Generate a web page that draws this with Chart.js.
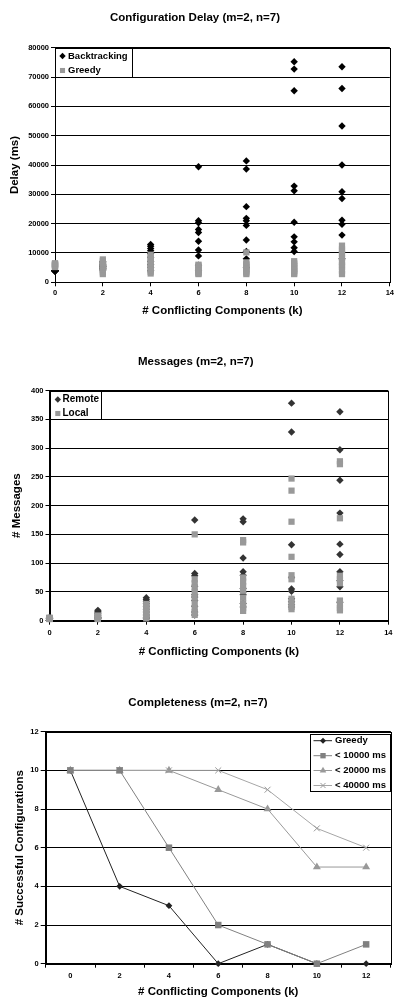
<!DOCTYPE html>
<html><head><meta charset="utf-8">
<script src="https://cdn.jsdelivr.net/npm/chart.js@4.4.1/dist/chart.umd.min.js"></script>
<style>
html,body{margin:0;padding:0;background:#fff;width:396px;height:998px;overflow:hidden}
canvas{position:absolute;left:0}
</style></head><body>
<canvas id="c1" width="396" height="325" style="top:0px;width:396px;height:325px"></canvas>
<canvas id="c2" width="396" height="335" style="top:330px;width:396px;height:335px"></canvas>
<canvas id="c3" width="396" height="330" style="top:670px;width:396px;height:330px"></canvas>
<script>
// ---------- DATA ----------
const kValues = [0, 2, 4, 6, 8, 10, 12];

// Configuration Delay (ms), 10 configurations per k
const delayBacktracking = [
  [3800, 3900, 3850, 4000, 3950, 3900, 4050, 3800, 4000, 3900],
  [4200, 4800, 5300, 5700, 6100, 6600, 7000, 5000, 4500, 5500],
  [12900, 12300, 11500, 10800, 9800, 8500, 7100, 6000, 3900, 5100],
  [39400, 21000, 20300, 18000, 17000, 14000, 11000, 9000, 5800, 4100],
  [41400, 38600, 25800, 21800, 21000, 19400, 14400, 10500, 8000, 5000],
  [75200, 72700, 65300, 32800, 31200, 20500, 15500, 13800, 11800, 10500],
  [73500, 66100, 53300, 40000, 30900, 28600, 21200, 19800, 16100, 8000]
];
const delayGreedy = [
  [5200, 5500, 5800, 6100, 6200, 6500, 6000, 5600, 5900, 6300],
  [2800, 3400, 4100, 4500, 5100, 5400, 6000, 6600, 7200, 7800],
  [3000, 3600, 4200, 5000, 5700, 6500, 7300, 8000, 8700, 9400],
  [2800, 3300, 3600, 4100, 4400, 4900, 5200, 5700, 6000, 3000],
  [10200, 2800, 3300, 3700, 4300, 4700, 5200, 5800, 6200, 6800],
  [2800, 3100, 3700, 4000, 4600, 5000, 5500, 6100, 6600, 7200],
  [12500, 11200, 9700, 8300, 7000, 5300, 4000, 2800, 10500, 6000]
];

// Messages, 10 configurations per k
const msgRemote = [
  [4, 4, 3, 5, 4, 4, 3, 4, 5, 4],
  [18, 16, 14, 12, 10, 8, 6, 5, 4, 3],
  [40, 37, 34, 30, 25, 20, 15, 10, 6, 4],
  [175, 82, 78, 45, 41, 35, 25, 15, 60, 10],
  [177, 172, 109, 85, 79, 56, 50, 30, 24, 45],
  [378, 328, 132, 55, 51, 33, 28, 38, 75, 24],
  [363, 297, 244, 187, 133, 115, 85, 59, 32, 70]
];
const msgLocal = [
  [4, 4, 3, 5, 4, 4, 3, 4, 5, 4],
  [3, 4, 4, 5, 5, 6, 7, 8, 9, 3],
  [4, 6, 9, 12, 15, 18, 21, 24, 27, 29],
  [150, 72, 65, 58, 50, 40, 30, 22, 15, 10],
  [140, 136, 75, 68, 60, 52, 40, 30, 22, 17],
  [247, 226, 172, 111, 79, 72, 38, 30, 24, 20],
  [277, 272, 178, 78, 72, 65, 35, 28, 22, 18]
];

// Completeness
const compCategories = ['0', '2', '4', '6', '8', '10', '12'];
const compGreedy = [10, 4, 3, 0, 1, 0, 0];
const comp10000 = [10, 10, 6, 2, 1, 0, 1];
const comp20000 = [10, 10, 10, 9, 8, 5, 5];
const comp40000 = [10, 10, 10, 10, 9, 7, 6];

// ---------- HELPERS ----------
Chart.defaults.font.family = '"Liberation Sans", Arial, sans-serif';
Chart.defaults.color = '#000';

function toPoints(groups) {
  const pts = [];
  groups.forEach((vals, i) => vals.forEach(v => pts.push({x: kValues[i], y: v})));
  return pts;
}

const FONT = '"Liberation Sans", Arial, sans-serif';

const plotBorder = {
  id: 'plotBorder',
  beforeDatasetsDraw(chart) {
    const {ctx, chartArea: a} = chart;
    ctx.save();
    ctx.strokeStyle = '#000';
    ctx.lineWidth = 1;
    const l = Math.round(a.left) + 0.5, t = Math.round(a.top) + 0.5;
    const r = Math.min(Math.round(a.right) + 0.5, chart.width - 0.5), b = Math.round(a.bottom) + 0.5;
    ctx.strokeRect(l, t, r - l, b - t);
    ctx.restore();
  }
};

const boxLegend = {
  id: 'boxLegend',
  afterDatasetsDraw(chart, args, o) {
    if (!o || !o.rows) return;
    const {ctx, chartArea: a} = chart;
    const x0 = Math.round(o.alignRight ? Math.min(a.right, chart.width) - o.width : a.left);
    const y0 = Math.round(a.top + (o.dy || 0));
    ctx.save();
    ctx.fillStyle = '#fff';
    ctx.fillRect(x0, y0, o.width, o.height);
    ctx.strokeStyle = '#000';
    ctx.lineWidth = 1;
    ctx.strokeRect(x0 + 0.5, y0 + 0.5, o.width - 1, o.height - 1);
    chart.data.datasets.forEach((ds, i) => {
      const y = y0 + o.rows[i];
      if (o.line) {
        ctx.strokeStyle = ds.borderColor;
        ctx.lineWidth = 1;
        ctx.beginPath();
        ctx.moveTo(x0 + o.lineFrom, y);
        ctx.lineTo(x0 + o.lineTo, y);
        ctx.stroke();
      }
      ctx.fillStyle = ds.pointBackgroundColor;
      ctx.strokeStyle = ds.pointBorderColor;
      ctx.lineWidth = ds.pointBorderWidth || 0;
      Chart.helpers.drawPoint(ctx, {
        pointStyle: ds.pointStyle,
        radius: o.radius[i],
        rotation: 0,
        borderWidth: ds.pointBorderWidth || 0
      }, x0 + o.markerX, y);
      ctx.fillStyle = '#000';
      ctx.font = 'bold ' + o.fontSize + 'px ' + FONT;
      ctx.textAlign = 'left';
      ctx.textBaseline = 'middle';
      ctx.fillText(ds.label, x0 + o.textX, y);
    });
    ctx.restore();
  }
};

const tickFont = {size: 7.5, weight: 'bold'};
const titleFont = {size: 11.5, weight: 'bold'};

function scatterOptions(cfg) {
  return {
    responsive: false,
    animation: false,
    layout: {padding: {left: 0, right: cfg.padRight, top: 0, bottom: 0}},
    plugins: {
      legend: {display: false},
      tooltip: {enabled: false},
      title: {display: true, text: cfg.title, font: titleFont, color: '#000',
              padding: {top: cfg.titleTop, bottom: cfg.titleBottom}},
      boxLegend: cfg.legend
    },
    scales: {
      x: {
        type: 'linear', min: 0, max: 14,
        afterFit: s => { s.height = cfg.xHeight; },
        ticks: {stepSize: 2, font: tickFont, color: '#000', padding: cfg.xTickPad, maxRotation: 0},
        grid: {display: true, drawOnChartArea: false, drawTicks: true, tickLength: 4, color: '#000'},
        border: {display: true, color: '#000', width: 1},
        title: {display: true, text: '# Conflicting Components (k)', font: titleFont, color: '#000',
                padding: {top: 0, bottom: cfg.xTitleBottom}}
      },
      y: {
        type: 'linear', min: 0, max: cfg.yMax,
        afterFit: s => { s.width = cfg.yWidth; },
        ticks: {stepSize: cfg.yStep, font: tickFont, color: '#000', padding: 2, callback: v => String(v)},
        grid: {display: true, drawTicks: true, tickLength: 4, color: '#000', lineWidth: 1},
        border: {display: true, color: '#000', width: 1},
        title: {display: true, text: cfg.yTitle, font: titleFont, color: '#000',
                padding: {top: cfg.yTitleTop, bottom: 0}}
      }
    }
  };
}

// ---------- CHART 1 ----------
new Chart(document.getElementById('c1'), {
  type: 'scatter',
  data: {
    datasets: [
      {label: 'Backtracking', data: toPoints(delayBacktracking), order: 1, clip: false,
       pointStyle: 'rectRot', pointRadius: 3.7, pointHoverRadius: 3.7,
       pointBackgroundColor: '#000', pointBorderColor: '#000', pointBorderWidth: 0,
       backgroundColor: '#000', borderColor: '#000'},
      {label: 'Greedy', data: toPoints(delayGreedy), order: 0, clip: false,
       pointStyle: 'rect', pointRadius: 4.4, pointHoverRadius: 4.4,
       pointBackgroundColor: '#999', pointBorderColor: '#999', pointBorderWidth: 0,
       backgroundColor: '#999', borderColor: '#999'}
    ]
  },
  options: scatterOptions({
    title: 'Configuration Delay (m=2, n=7)', titleTop: 11.1, titleBottom: 22.8,
    padRight: 6, xHeight: 42.7, xTickPad: 2, xTitleBottom: 7.1,
    yMax: 80000, yStep: 10000, yWidth: 55, yTitle: 'Delay (ms)', yTitleTop: 8.1,
    legend: {width: 78, height: 30, rows: [8, 22.5], markerX: 7.5, textX: 13, fontSize: 9.5, radius: [3.2, 3.6]}
  }),
  plugins: [plotBorder, boxLegend]
});

// ---------- CHART 2 ----------
new Chart(document.getElementById('c2'), {
  type: 'scatter',
  data: {
    datasets: [
      {label: 'Remote', data: toPoints(msgRemote), order: 1, clip: false,
       pointStyle: 'rectRot', pointRadius: 3.7, pointHoverRadius: 3.7,
       pointBackgroundColor: '#333', pointBorderColor: '#333', pointBorderWidth: 0,
       backgroundColor: '#333', borderColor: '#333'},
      {label: 'Local', data: toPoints(msgLocal), order: 0, clip: false,
       pointStyle: 'rect', pointRadius: 4.4, pointHoverRadius: 4.4,
       pointBackgroundColor: '#999', pointBorderColor: '#999', pointBorderWidth: 0,
       backgroundColor: '#999', borderColor: '#999'}
    ]
  },
  options: scatterOptions({
    title: 'Messages (m=2, n=7)', titleTop: 24.8, titleBottom: 21.9,
    padRight: 4.5, xHeight: 44.3, xTickPad: 3.5, xTitleBottom: 6.4,
    yMax: 400, yStep: 50, yWidth: 49.5, yTitle: '# Messages', yTitleTop: 10.1,
    legend: {width: 52, height: 29, rows: [8.5, 22.5], markerX: 7.8, textX: 12.5, fontSize: 10, radius: [3.2, 3.6]}
  }),
  plugins: [plotBorder, boxLegend]
});

// ---------- CHART 3 ----------
new Chart(document.getElementById('c3'), {
  type: 'line',
  data: {
    labels: compCategories,
    datasets: [
      {label: 'Greedy', data: compGreedy, order: 3, clip: false, tension: 0, fill: false,
       borderColor: '#222', borderWidth: 1, backgroundColor: '#222',
       pointStyle: 'rectRot', pointRadius: 3.4, pointHoverRadius: 3.4,
       pointBackgroundColor: '#222', pointBorderColor: '#222', pointBorderWidth: 0},
      {label: '< 10000 ms', data: comp10000, order: 0, clip: false, tension: 0, fill: false,
       borderColor: '#808080', borderWidth: 1, backgroundColor: '#808080',
       pointStyle: 'rect', pointRadius: 4.6, pointHoverRadius: 4.6,
       pointBackgroundColor: '#808080', pointBorderColor: '#808080', pointBorderWidth: 0},
      {label: '< 20000 ms', data: comp20000, order: 2, clip: false, tension: 0, fill: false,
       borderColor: '#999', borderWidth: 1, backgroundColor: '#999',
       pointStyle: 'triangle', pointRadius: 4.6, pointHoverRadius: 4.6,
       pointBackgroundColor: '#999', pointBorderColor: '#999', pointBorderWidth: 0},
      {label: '< 40000 ms', data: comp40000, order: 1, clip: false, tension: 0, fill: false,
       borderColor: '#a6a6a6', borderWidth: 1, backgroundColor: '#a6a6a6',
       pointStyle: 'crossRot', pointRadius: 4.2, pointHoverRadius: 4.2,
       pointBackgroundColor: '#999', pointBorderColor: '#999', pointBorderWidth: 1}
    ]
  },
  options: {
    responsive: false,
    animation: false,
    layout: {padding: {left: 0, right: 0, top: 0, bottom: 0}},
    plugins: {
      legend: {display: false},
      tooltip: {enabled: false},
      title: {display: true, text: 'Completeness (m=2, n=7)', font: titleFont, color: '#000',
              padding: {top: 26.1, bottom: 21.8}},
      boxLegend: {alignRight: true, dy: 2.3, width: 81, height: 58, rows: [6.7, 21.7, 36.5, 51.5],
                  line: true, lineFrom: 3.5, lineTo: 22, markerX: 13, textX: 25, fontSize: 9.5,
                  radius: [3, 3.8, 3.8, 3.6]}
    },
    scales: {
      x: {
        type: 'category', offset: true,
        afterFit: s => { s.height = 36.3; },
        ticks: {font: tickFont, color: '#000', padding: 3.5, maxRotation: 0, autoSkip: false},
        grid: {display: true, offset: true, drawOnChartArea: false, drawTicks: true, tickLength: 4, color: '#000'},
        border: {display: true, color: '#000', width: 1},
        title: {display: true, text: '# Conflicting Components (k)', font: titleFont, color: '#000',
                padding: {top: 0, bottom: 1.1}}
      },
      y: {
        type: 'linear', min: 0, max: 12,
        afterFit: s => { s.width = 45.7; },
        ticks: {stepSize: 2, font: tickFont, color: '#000', padding: 2},
        grid: {display: true, drawTicks: true, tickLength: 5, color: '#000', lineWidth: 1},
        border: {display: true, color: '#000', width: 1},
        title: {display: true, text: '# Successful Configurations', font: titleFont, color: '#000',
                padding: {top: 13.1, bottom: 0}}
      }
    }
  },
  plugins: [plotBorder, boxLegend]
});
</script>
</body></html>
